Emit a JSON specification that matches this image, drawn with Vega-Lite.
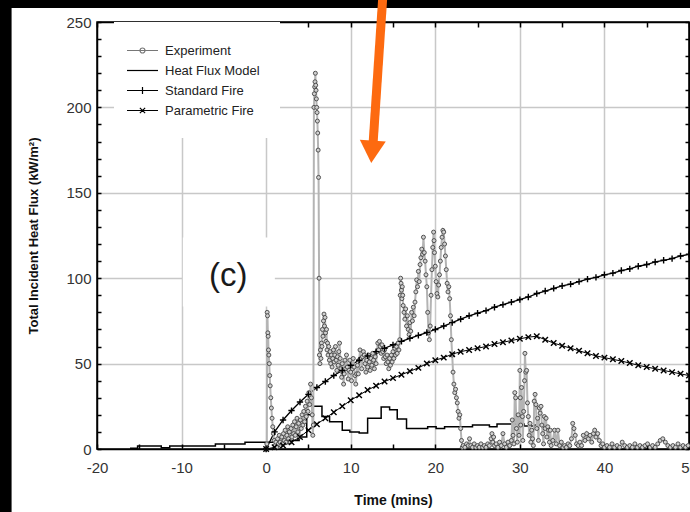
{
  "$schema": "https://vega.github.io/schema/vega-lite/v6.json",
  "width": 592,
  "height": 427,
  "autosize": {"type": "none"},
  "padding": {"left": 97, "top": 22, "right": 1, "bottom": 63},
  "background": "white",
  "config": {
    "font": "Liberation Sans",
    "view": {"stroke": "black", "strokeWidth": 1.5}
  },
  "datasets": {
    "one": [{}],
    "exp": [
      {"t":0,"v":0},{"t":0.08,"v":3},{"t":0.12,"v":80},{"t":0.16,"v":78},{"t":0.2,"v":68},{"t":0.24,"v":66},{"t":0.28,"v":58},{"t":0.32,"v":55},{"t":0.37,"v":50},{"t":0.42,"v":43},{"t":0.48,"v":37},{"t":0.55,"v":30},{"t":0.62,"v":24},{"t":0.7,"v":18},{"t":0.78,"v":13},{"t":0.86,"v":9},{"t":0.95,"v":5},{"t":1.05,"v":2},{"t":1.15,"v":4},{"t":1.25,"v":1},{"t":1.35,"v":6},{"t":1.45,"v":3},{"t":1.55,"v":8},{"t":1.65,"v":4},{"t":1.75,"v":2},{"t":1.85,"v":7},{"t":1.95,"v":3},{"t":2.05,"v":9},{"t":2.15,"v":5},{"t":2.25,"v":11},{"t":2.35,"v":4},{"t":2.45,"v":8},{"t":2.55,"v":13},{"t":2.65,"v":6},{"t":2.75,"v":10},{"t":2.85,"v":4},{"t":2.95,"v":12},{"t":3.05,"v":7},{"t":3.15,"v":14},{"t":3.25,"v":9},{"t":3.35,"v":16},{"t":3.45,"v":8},{"t":3.55,"v":13},{"t":3.65,"v":18},{"t":3.75,"v":10},{"t":3.85,"v":15},{"t":3.95,"v":7},{"t":4.05,"v":17},{"t":4.15,"v":12},{"t":4.25,"v":20},{"t":4.35,"v":14},{"t":4.45,"v":22},{"t":4.55,"v":16},{"t":4.65,"v":25},{"t":4.75,"v":19},{"t":4.85,"v":28},{"t":4.95,"v":22},{"t":5.05,"v":33},{"t":5.15,"v":26},{"t":5.25,"v":38},{"t":5.35,"v":30},{"t":5.45,"v":20},{"t":5.52,"v":8},{"t":5.58,"v":14},
      {"t":5.65,"v":200},{"t":5.7,"v":208},{"t":5.74,"v":212},{"t":5.78,"v":215},{"t":5.82,"v":220},{"t":5.86,"v":213},{"t":5.9,"v":210},{"t":5.94,"v":205},{"t":5.98,"v":200},{"t":6.02,"v":197},{"t":6.06,"v":192},{"t":6.1,"v":185},{"t":6.15,"v":175},{"t":6.2,"v":159},{"t":6.26,"v":100},{"t":6.3,"v":55},{"t":6.36,"v":50},{"t":6.42,"v":58},{"t":6.48,"v":53},{"t":6.54,"v":62},{"t":6.6,"v":60},{"t":6.66,"v":70},{"t":6.72,"v":66},{"t":6.78,"v":75},{"t":6.84,"v":79},{"t":6.9,"v":72},{"t":6.96,"v":77},{"t":7.02,"v":68},{"t":7.08,"v":63},{"t":7.14,"v":70},{"t":7.2,"v":58},{"t":7.26,"v":62},{"t":7.32,"v":55},{"t":7.4,"v":60},{"t":7.48,"v":52},{"t":7.56,"v":57},{"t":7.64,"v":50},{"t":7.72,"v":55},{"t":7.8,"v":48},{"t":7.88,"v":53},{"t":7.96,"v":58},{"t":8.04,"v":51},{"t":8.12,"v":55},{"t":8.2,"v":60},{"t":8.28,"v":52},{"t":8.36,"v":46},{"t":8.44,"v":54},{"t":8.52,"v":49},{"t":8.6,"v":57},{"t":8.68,"v":62},{"t":8.76,"v":53},{"t":8.84,"v":47},{"t":8.92,"v":42},{"t":9.0,"v":50},{"t":9.08,"v":45},{"t":9.16,"v":38},{"t":9.24,"v":44},{"t":9.32,"v":52},{"t":9.4,"v":47},{"t":9.5,"v":55},{"t":9.6,"v":48},{"t":9.7,"v":41},{"t":9.8,"v":46},{"t":9.9,"v":52},{"t":10.0,"v":45},{"t":10.1,"v":40},{"t":10.2,"v":47},{"t":10.3,"v":53},{"t":10.4,"v":48},{"t":10.5,"v":43},{"t":10.6,"v":38},{"t":10.7,"v":44},{"t":10.8,"v":49},{"t":10.9,"v":44},{"t":11.0,"v":52},{"t":11.1,"v":58},{"t":11.2,"v":53},{"t":11.3,"v":47},{"t":11.4,"v":54},{"t":11.5,"v":57},{"t":11.6,"v":55},{"t":11.7,"v":50},{"t":11.8,"v":45},{"t":11.9,"v":52},{"t":12.0,"v":48},{"t":12.1,"v":55},{"t":12.2,"v":51},{"t":12.3,"v":46},{"t":12.4,"v":53},{"t":12.5,"v":49},{"t":12.6,"v":56},{"t":12.7,"v":52},{"t":12.8,"v":47},{"t":12.9,"v":54},{"t":13.0,"v":50},{"t":13.1,"v":57},{"t":13.2,"v":62},{"t":13.3,"v":58},{"t":13.4,"v":63},{"t":13.5,"v":60},{"t":13.6,"v":56},{"t":13.7,"v":61},{"t":13.8,"v":57},{"t":13.9,"v":53},{"t":14.0,"v":58},{"t":14.1,"v":54},{"t":14.2,"v":50},{"t":14.3,"v":55},{"t":14.4,"v":51},{"t":14.5,"v":47},{"t":14.6,"v":53},{"t":14.7,"v":49},{"t":14.8,"v":55},{"t":14.9,"v":51},{"t":15.0,"v":57},{"t":15.1,"v":53},{"t":15.2,"v":59},{"t":15.3,"v":55},{"t":15.4,"v":60},{"t":15.5,"v":56},{"t":15.6,"v":62},{"t":15.7,"v":58},{"t":15.8,"v":64},{"t":15.85,"v":90},{"t":15.9,"v":100},{"t":15.95,"v":97},{"t":16.0,"v":93},{"t":16.05,"v":88},{"t":16.1,"v":95},{"t":16.15,"v":90},{"t":16.2,"v":84},{"t":16.3,"v":80},{"t":16.4,"v":76},{"t":16.5,"v":82},{"t":16.6,"v":72},{"t":16.7,"v":78},{"t":16.8,"v":70},{"t":16.9,"v":67},{"t":17.0,"v":74},{"t":17.1,"v":69},{"t":17.2,"v":80},{"t":17.3,"v":75},{"t":17.4,"v":83},{"t":17.5,"v":78},{"t":17.6,"v":86},{"t":17.7,"v":92},{"t":17.8,"v":99},{"t":17.9,"v":95},{"t":18.0,"v":104},{"t":18.1,"v":98},{"t":18.2,"v":108},{"t":18.3,"v":112},{"t":18.4,"v":117},{"t":18.5,"v":114},{"t":18.6,"v":124},{"t":18.7,"v":115},{"t":18.8,"v":110},{"t":18.9,"v":102},{"t":19.0,"v":95},{"t":19.1,"v":80},{"t":19.2,"v":68},{"t":19.3,"v":64},{"t":19.4,"v":72},{"t":19.5,"v":90},{"t":19.6,"v":105},{"t":19.7,"v":118},{"t":19.8,"v":127},{"t":19.85,"v":122},{"t":19.9,"v":115},{"t":20.0,"v":107},{"t":20.1,"v":98},{"t":20.2,"v":91},{"t":20.3,"v":89},{"t":20.4,"v":96},{"t":20.5,"v":102},{"t":20.6,"v":110},{"t":20.7,"v":118},{"t":20.8,"v":124},{"t":20.9,"v":128},{"t":21.0,"v":127},{"t":21.1,"v":120},{"t":21.2,"v":113},{"t":21.3,"v":105},{"t":21.4,"v":97},{"t":21.5,"v":92},{"t":21.6,"v":95},{"t":21.7,"v":88},{"t":21.8,"v":78},{"t":21.9,"v":64},{"t":22.0,"v":55},{"t":22.1,"v":45},{"t":22.2,"v":38},{"t":22.3,"v":33},{"t":22.4,"v":35},{"t":22.5,"v":30},{"t":22.6,"v":27},{"t":22.7,"v":22},{"t":22.8,"v":18},{"t":22.9,"v":20},{"t":23.0,"v":12},{"t":23.1,"v":5},{"t":23.2,"v":1},
      {"t":23.3,"v":2},{"t":23.5,"v":1},{"t":23.7,"v":3},{"t":23.9,"v":2},{"t":24.05,"v":6},{"t":24.2,"v":2},{"t":24.4,"v":1},{"t":24.6,"v":3},{"t":24.8,"v":1},{"t":25.0,"v":2},{"t":25.2,"v":1},{"t":25.4,"v":3},{"t":25.6,"v":1},{"t":25.8,"v":2},{"t":26.0,"v":1},{"t":26.2,"v":3},{"t":26.4,"v":2},{"t":26.6,"v":6},{"t":26.7,"v":9},{"t":26.8,"v":4},{"t":26.9,"v":7},{"t":27.0,"v":2},{"t":27.2,"v":3},{"t":27.4,"v":1},{"t":27.6,"v":4},{"t":27.8,"v":2},{"t":28.0,"v":9},{"t":28.2,"v":3},{"t":28.4,"v":1},{"t":28.6,"v":4},{"t":28.8,"v":2},
      {"t":29.0,"v":5},{"t":29.1,"v":17},{"t":29.2,"v":8},{"t":29.3,"v":3},{"t":29.4,"v":33},{"t":29.5,"v":30},{"t":29.6,"v":12},{"t":29.7,"v":4},{"t":29.8,"v":20},{"t":29.9,"v":8},{"t":30.0,"v":46},{"t":30.05,"v":30},{"t":30.1,"v":14},{"t":30.2,"v":36},{"t":30.3,"v":19},{"t":30.35,"v":5},{"t":30.45,"v":22},{"t":30.55,"v":40},{"t":30.6,"v":56},{"t":30.7,"v":45},{"t":30.8,"v":46},{"t":30.9,"v":27},{"t":31.0,"v":19},{"t":31.1,"v":8},{"t":31.2,"v":15},{"t":31.3,"v":4},{"t":31.4,"v":11},{"t":31.5,"v":6},{"t":31.6,"v":2},{"t":31.7,"v":28},{"t":31.8,"v":32},{"t":31.9,"v":26},{"t":32.0,"v":12},{"t":32.1,"v":18},{"t":32.2,"v":5},{"t":32.3,"v":24},{"t":32.4,"v":21},{"t":32.5,"v":25},{"t":32.6,"v":14},{"t":32.7,"v":9},{"t":32.8,"v":3},{"t":32.9,"v":19},{"t":33.0,"v":12},{"t":33.1,"v":18},{"t":33.2,"v":7},{"t":33.3,"v":13},{"t":33.4,"v":11},{"t":33.5,"v":4},{"t":33.6,"v":11},{"t":33.7,"v":2},{"t":33.9,"v":5},{"t":34.1,"v":11},{"t":34.3,"v":3},{"t":34.5,"v":11},{"t":34.7,"v":2},{"t":34.9,"v":4},{"t":35.1,"v":1},
      {"t":35.3,"v":2},{"t":35.5,"v":1},{"t":35.7,"v":3},{"t":35.9,"v":2},{"t":36.1,"v":6},{"t":36.25,"v":15},{"t":36.4,"v":12},{"t":36.55,"v":8},{"t":36.7,"v":3},{"t":36.9,"v":2},{"t":37.1,"v":4},{"t":37.3,"v":2},{"t":37.5,"v":8},{"t":37.7,"v":5},{"t":37.9,"v":9},{"t":38.1,"v":6},{"t":38.3,"v":8},{"t":38.5,"v":4},{"t":38.7,"v":9},{"t":38.85,"v":11},{"t":39.0,"v":7},{"t":39.2,"v":9},{"t":39.4,"v":5},{"t":39.6,"v":2},{"t":39.8,"v":3},{"t":40.0,"v":1},{"t":40.3,"v":2},{"t":40.6,"v":1},{"t":40.9,"v":3},{"t":41.2,"v":1},{"t":41.5,"v":2},{"t":41.8,"v":1},{"t":42.1,"v":4},{"t":42.4,"v":2},{"t":42.7,"v":1},{"t":43.0,"v":2},{"t":43.3,"v":1},{"t":43.6,"v":3},{"t":43.9,"v":1},{"t":44.2,"v":2},{"t":44.5,"v":1},{"t":44.8,"v":2},{"t":45.1,"v":3},{"t":45.4,"v":1},{"t":45.7,"v":2},{"t":46.0,"v":1},{"t":46.3,"v":3},{"t":46.6,"v":5},{"t":46.9,"v":6},{"t":47.2,"v":4},{"t":47.5,"v":2},{"t":47.8,"v":1},{"t":48.1,"v":2},{"t":48.4,"v":1},{"t":48.7,"v":3},{"t":49.0,"v":1},{"t":49.3,"v":2},{"t":49.6,"v":1},{"t":49.9,"v":2}
    ],
    "hfm": [
      {"t":-16.1,"v":0.5},{"t":-15.2,"v":1.8},{"t":-12.4,"v":0.8},{"t":-11.4,"v":1.8},{"t":-6.0,"v":2.9},{"t":-2.5,"v":4.0},{"t":1.6,"v":5.0},{"t":3.9,"v":7.0},{"t":4.8,"v":20},{"t":5.5,"v":25},{"t":6.6,"v":19},{"t":7.5,"v":16},{"t":9.0,"v":11},{"t":9.9,"v":10},{"t":11.0,"v":9.3},{"t":12.0,"v":18},{"t":13.6,"v":24.6},{"t":14.6,"v":23},{"t":15.5,"v":17.5},{"t":16.6,"v":12},{"t":19.1,"v":13},{"t":20.1,"v":12},{"t":21.1,"v":13},{"t":24.4,"v":14},{"t":26.4,"v":13},{"t":27.3,"v":14.6},{"t":30.5,"v":13.5},{"t":31.7,"v":14},{"t":32.5,"v":14}
    ],
    "std": [
      {"t":0,"v":0},{"t":1,"v":10},{"t":2,"v":17},{"t":3,"v":22.5},{"t":4,"v":27.5},{"t":5,"v":32},{"t":6,"v":36},{"t":7,"v":39.5},{"t":8,"v":43},{"t":9,"v":46},{"t":10,"v":49},{"t":11,"v":52},{"t":12,"v":54.5},{"t":13,"v":57},{"t":14,"v":59},{"t":15,"v":61},{"t":16,"v":63},{"t":17,"v":64.8},{"t":18,"v":66.5},{"t":19,"v":68.2},{"t":20,"v":70},{"t":21,"v":72},{"t":22,"v":74},{"t":23,"v":76},{"t":24,"v":78},{"t":25,"v":79.5},{"t":26,"v":81},{"t":27,"v":83},{"t":28,"v":84.5},{"t":29,"v":86},{"t":30,"v":87.5},{"t":31,"v":89},{"t":32,"v":91},{"t":33,"v":92.5},{"t":34,"v":94},{"t":35,"v":95.5},{"t":36,"v":96.5},{"t":37,"v":98},{"t":38,"v":99.5},{"t":39,"v":100.5},{"t":40,"v":102},{"t":41,"v":103},{"t":42,"v":104.5},{"t":43,"v":105.5},{"t":44,"v":107},{"t":45,"v":108},{"t":46,"v":109.5},{"t":47,"v":110.5},{"t":48,"v":111.5},{"t":49,"v":113},{"t":50,"v":114}
    ],
    "par": [
      {"t":0,"v":0},{"t":1,"v":1},{"t":2,"v":2},{"t":3,"v":4},{"t":4,"v":7},{"t":5,"v":11},{"t":6,"v":14.5},{"t":7,"v":18},{"t":8,"v":21.5},{"t":9,"v":25},{"t":10,"v":28.5},{"t":11,"v":31.5},{"t":12,"v":34.5},{"t":13,"v":37},{"t":14,"v":39.5},{"t":15,"v":41.5},{"t":16,"v":43.5},{"t":17,"v":45.5},{"t":18,"v":47.5},{"t":19,"v":50},{"t":20,"v":52},{"t":21,"v":53.5},{"t":22,"v":55.5},{"t":23,"v":57},{"t":24,"v":58},{"t":25,"v":59},{"t":26,"v":60},{"t":27,"v":61.5},{"t":28,"v":62.5},{"t":29,"v":63.5},{"t":30,"v":64.5},{"t":31,"v":65.5},{"t":32,"v":66},{"t":33,"v":64},{"t":34,"v":62},{"t":35,"v":60.5},{"t":36,"v":59},{"t":37,"v":57.5},{"t":38,"v":56},{"t":39,"v":54.5},{"t":40,"v":53.5},{"t":41,"v":52.5},{"t":42,"v":51.5},{"t":43,"v":50.3},{"t":44,"v":49},{"t":45,"v":48},{"t":46,"v":47},{"t":47,"v":46},{"t":48,"v":45},{"t":49,"v":44},{"t":50,"v":43}
    ],
    "leg": [
      {"s":"Experiment"},{"s":"Heat Flux Model"},{"s":"Standard Fire"},{"s":"Parametric Fire"}
    ]
  },
  "resolve": {"axis": {"x": "independent", "y": "independent"}},
  "layer": [
    {
      "data": {"name": "one"},
      "mark": {"type": "rect", "color": "black", "clip": false},
      "encoding": {
        "x": {"datum": -40, "type": "quantitative", "scale": {"domain": [-20, 50], "nice": false, "zero": false}, "axis": null},
        "x2": {"datum": 60},
        "y": {"datum": 258.2, "type": "quantitative", "scale": {"domain": [0, 250], "nice": false, "zero": false}, "axis": null},
        "y2": {"datum": 290}
      }
    },
    {
      "data": {"name": "one"},
      "mark": {"type": "rect", "color": "black", "clip": false},
      "encoding": {
        "x": {"datum": -45, "type": "quantitative", "axis": null},
        "x2": {"datum": -30.1},
        "y": {"datum": -50, "type": "quantitative", "axis": null},
        "y2": {"datum": 290}
      }
    },
    {
      "mark": {"type": "line", "color": "black", "strokeWidth": 1.3},
      "data": {"name": "std"},
      "encoding": {
        "x": {
          "field": "t", "type": "quantitative", "title": "Time (mins)",
          "scale": {"domain": [-20, 50], "nice": false, "zero": false},
          "axis": {
            "orient": "bottom",
            "values": [-20,-15,-10,-5,0,5,10,15,20,25,30,35,40,45,50],
            "format": "d",
            "labelExpr": "datum.value % 10 === 0 ? replace(datum.label, '−', '-') : ''",
            "grid": true, "gridColor": "#c8c8c8", "gridWidth": 1.5,
            "gridOpacity": {"condition": {"test": "datum.value % 10 !== 0 || datum.value === -20 || datum.value === 50", "value": 0}, "value": 1},
            "tickSize": -5, "tickColor": "black", "tickWidth": 1.5,
            "domainColor": "black", "domainWidth": 1.5,
            "labelFont": "Liberation Sans", "labelFontSize": 15, "labelColor": "#333",
            "labelPadding": 16, "labelFlush": false, "labelOverlap": false,
            "titleFont": "Liberation Sans", "titleFontSize": 14, "titleFontWeight": "bold", "titleColor": "#111",
            "titlePadding": 18
          }
        },
        "y": {
          "field": "v", "type": "quantitative", "title": "Total Incident Heat Flux (kW/m²)",
          "scale": {"domain": [0, 250], "nice": false, "zero": false},
          "axis": {
            "orient": "left",
            "values": [0,10,20,30,40,50,60,70,80,90,100,110,120,130,140,150,160,170,180,190,200,210,220,230,240,250],
            "labelExpr": "datum.value % 50 === 0 ? datum.label : ''",
            "grid": true, "gridColor": "#c8c8c8", "gridWidth": 1.5,
            "gridOpacity": {"condition": {"test": "datum.value % 50 !== 0 || datum.value === 0 || datum.value === 250", "value": 0}, "value": 1},
            "tickSize": -4, "tickColor": "black", "tickWidth": 1.5,
            "domainColor": "black", "domainWidth": 1.5,
            "labelFont": "Liberation Sans", "labelFontSize": 15, "labelColor": "#333",
            "labelPadding": 10, "labelFlush": false, "labelOverlap": false,
            "titleFont": "Liberation Sans", "titleFontSize": 13, "titleFontWeight": "bold", "titleColor": "#111",
            "titlePadding": 25
          }
        }
      }
    },
    {
      "mark": {"type": "line", "color": "black", "strokeWidth": 1},
      "data": {"name": "par"},
      "encoding": {
        "x": {
          "field": "t", "type": "quantitative",
          "axis": {
            "orient": "top", "title": null, "labels": false, "grid": false,
            "values": [-20,-15,-10,-5,0,5,10,15,20,25,30,35,40,45,50],
            "tickSize": -5, "tickColor": "black", "tickWidth": 1.5,
            "domainColor": "black", "domainWidth": 1.5
          }
        },
        "y": {
          "field": "v", "type": "quantitative",
          "axis": {
            "orient": "right", "title": null, "labels": false, "grid": false,
            "values": [0,10,20,30,40,50,60,70,80,90,100,110,120,130,140,150,160,170,180,190,200,210,220,230,240,250],
            "tickSize": -4, "tickColor": "black", "tickWidth": 1.5,
            "domainColor": "black", "domainWidth": 1.5
          }
        }
      }
    },
    {
      "data": {"name": "one"},
      "mark": {"type": "point", "shape": "M-1,-0.75H1V0.75H-1Z", "size": 8464, "filled": true, "fill": "white", "strokeWidth": 0, "opacity": 1, "clip": false},
      "encoding": {
        "x": {"datum": -4.41, "type": "quantitative", "axis": null},
        "y": {"datum": 103.6, "type": "quantitative", "axis": null}
      }
    },
    {
      "mark": {"type": "line", "color": "black", "strokeWidth": 1.5, "interpolate": "step-after"},
      "data": {"name": "hfm"},
      "encoding": {
        "x": {"field": "t", "type": "quantitative", "axis": null},
        "y": {"field": "v", "type": "quantitative", "axis": null}
      }
    },
    {
      "mark": {"type": "line", "color": "#b4b4b4", "strokeWidth": 2},
      "data": {"name": "exp"},
      "encoding": {
        "x": {"field": "t", "type": "quantitative", "axis": null},
        "y": {"field": "v", "type": "quantitative", "axis": null}
      }
    },
    {
      "mark": {"type": "point", "shape": "circle", "size": 16, "filled": true, "fill": "#d0d0d0", "stroke": "#444444", "strokeWidth": 0.9, "opacity": 1},
      "data": {"name": "exp"},
      "encoding": {
        "x": {"field": "t", "type": "quantitative", "axis": null},
        "y": {"field": "v", "type": "quantitative", "axis": null}
      }
    },
    {
      "mark": {"type": "point", "shape": "M-1,0H1M0,-1V1", "size": 40, "filled": false, "stroke": "black", "strokeWidth": 1.4, "opacity": 1},
      "data": {"name": "std"},
      "encoding": {
        "x": {"field": "t", "type": "quantitative", "axis": null},
        "y": {"field": "v", "type": "quantitative", "axis": null}
      }
    },
    {
      "mark": {"type": "point", "shape": "M-1,-1L1,1M-1,1L1,-1", "size": 30, "filled": false, "stroke": "black", "strokeWidth": 1.4, "opacity": 1},
      "data": {"name": "par"},
      "encoding": {
        "x": {"field": "t", "type": "quantitative", "axis": null},
        "y": {"field": "v", "type": "quantitative", "axis": null}
      }
    },
    {
      "data": {"name": "one"},
      "mark": {"type": "text", "text": "(c)", "font": "Liberation Sans", "fontSize": 33, "color": "#1a1a1a", "align": "center", "baseline": "middle"},
      "encoding": {
        "x": {"datum": -4.47, "type": "quantitative", "axis": null},
        "y": {"datum": 101, "type": "quantitative", "axis": null}
      }
    },
    {
      "mark": {"type": "point", "filled": false, "clip": true, "opacity": 1},
      "data": {"name": "leg"},
      "encoding": {
        "x": {"datum": -100, "type": "quantitative", "axis": null},
        "y": {"datum": -100, "type": "quantitative", "axis": null},
        "color": {
          "field": "s", "type": "nominal",
          "scale": {"domain": ["Experiment", "Heat Flux Model", "Standard Fire", "Parametric Fire"], "range": ["#777777", "black", "black", "black"]},
          "legend": {
            "title": null, "orient": "none", "legendX": 17, "legendY": 0,
            "fillColor": "white", "padding": 20, "rowPadding": 4,
            "symbolSize": 240, "symbolStrokeWidth": 1.2, "symbolFillColor": "transparent",
            "labelFont": "Liberation Sans", "labelFontSize": 13, "labelColor": "#222", "labelOffset": 14
          }
        },
        "shape": {
          "field": "s", "type": "nominal",
          "scale": {
            "domain": ["Experiment", "Heat Flux Model", "Standard Fire", "Parametric Fire"],
            "range": [
              "M-2,0H2M-0.32,0A0.32,0.32 0 1,1 0.32,0A0.32,0.32 0 1,1 -0.32,0",
              "M-2,0H2",
              "M-2,0H2M0,-0.44V0.44",
              "M-2,0H2M-0.34,-0.34L0.34,0.34M-0.34,0.34L0.34,-0.34"
            ]
          },
          "legend": {
            "title": null, "orient": "none", "legendX": 17, "legendY": 0,
            "fillColor": "white", "padding": 20, "rowPadding": 4,
            "symbolSize": 240, "symbolStrokeWidth": 1.2, "symbolFillColor": "transparent",
            "labelFont": "Liberation Sans", "labelFontSize": 13, "labelColor": "#222", "labelOffset": 14
          }
        }
      }
    },
    {
      "data": {"name": "one"},
      "mark": {"type": "rule", "color": "#fd6a10", "strokeWidth": 9, "clip": false},
      "encoding": {
        "x": {"datum": 13.77, "type": "quantitative", "axis": null},
        "y": {"datum": 263, "type": "quantitative", "axis": null},
        "x2": {"datum": 12.62},
        "y2": {"datum": 177}
      }
    },
    {
      "data": {"name": "one"},
      "mark": {"type": "point", "shape": "triangle-down", "size": 676, "angle": 4, "filled": true, "fill": "#fd6a10", "strokeWidth": 0, "opacity": 1, "clip": false},
      "encoding": {
        "x": {"datum": 12.52, "type": "quantitative", "axis": null},
        "y": {"datum": 174, "type": "quantitative", "axis": null}
      }
    }
  ]
}
